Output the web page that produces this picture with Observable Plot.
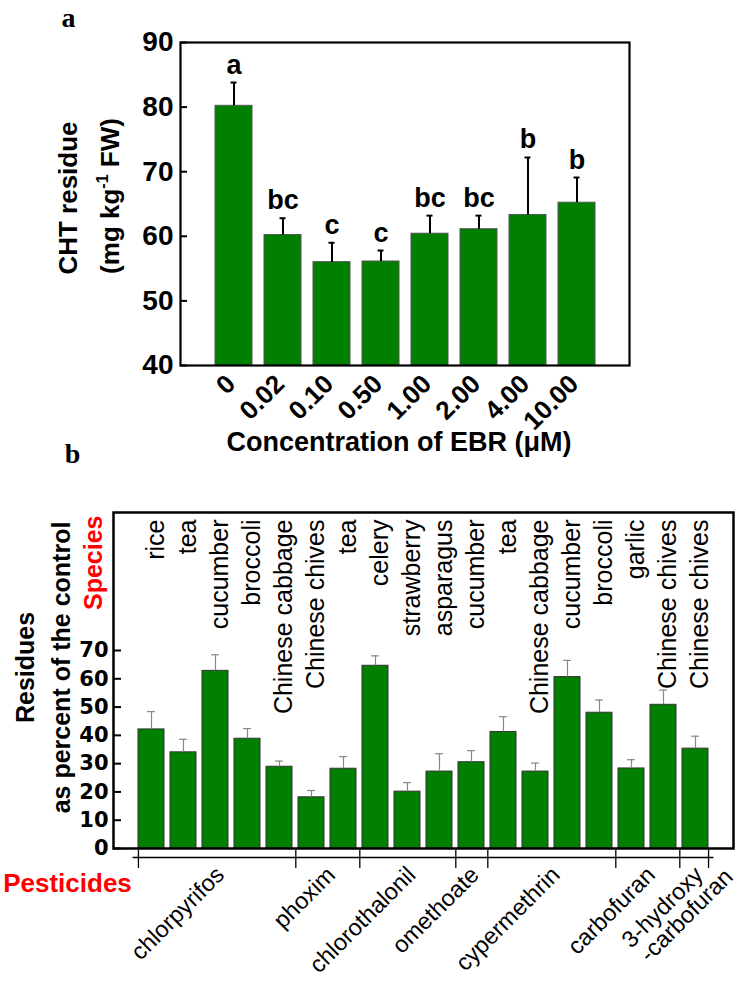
<!DOCTYPE html>
<html>
<head>
<meta charset="utf-8">
<script src="https://cdn.jsdelivr.net/npm/d3@7"></script>
<script src="https://cdn.jsdelivr.net/npm/@observablehq/plot@0.6"></script>
<style>
  body { margin: 0; background: #fff; }
  #root { position: relative; width: 744px; height: 992px; overflow: hidden; background: #fff; }
  #root svg { position: absolute; left: 0; }
</style>
</head>
<body>
<div id="root"></div>
<script>
// ---------- Panel a data ----------
const concentrations = ["0", "0.02", "0.10", "0.50", "1.00", "2.00", "4.00", "10.00"];
const chtResidue = [80.2, 60.2, 56.0, 56.1, 60.4, 61.1, 63.3, 65.2];
const chtError = [3.6, 2.6, 3.0, 1.7, 2.8, 2.1, 8.9, 3.9];
const significance = ["a", "bc", "c", "c", "bc", "bc", "b", "b"];
const yTicksA = [40, 50, 60, 70, 80, 90];

// ---------- Panel b data ----------
const species = ["rice", "tea", "cucumber", "broccoli", "Chinese cabbage", "Chinese chives", "tea",
  "celery", "strawberry", "asparagus", "cucumber", "tea", "Chinese cabbage", "cucumber",
  "broccoli", "garlic", "Chinese chives", "Chinese chives"];
const residuePercent = [42.1, 34.0, 62.8, 38.8, 28.9, 18.1, 28.2, 64.6, 20.1, 27.2, 30.5, 41.2,
  27.2, 60.6, 48.0, 28.3, 50.8, 35.3];
const residueError = [6.3, 4.6, 5.7, 3.6, 2.0, 2.4, 4.3, 3.5, 3.2, 6.3, 4.1, 5.4, 3.0, 5.9,
  4.5, 3.1, 5.2, 4.4];
const pesticides = ["chlorpyrifos", "phoxim", "chlorothalonil", "omethoate", "cypermethrin",
  "carbofuran", "3-hydroxy\n-carbofuran"];
const pesticideBarCounts = [5, 2, 3, 1, 4, 2, 1];
const yTicksB = [0, 10, 20, 30, 40, 50, 60, 70];

// ---------- styles ----------
const green = "#007f00";
const sans = "Liberation Sans, Arial, sans-serif";
const root = document.getElementById("root");
const C = {textAnchor: "middle", lineAnchor: "middle"};

// ---------- Panel a ----------
const dataA = concentrations.map((c, i) => ({c, v: chtResidue[i], e: chtError[i], s: significance[i]}));
const A = {w: 744, h: 470, ml: 180, mr: 115, mt: 42, mb: 105};
const frameWA = A.w - A.ml - A.mr;

const plotA = Plot.plot({
  width: A.w, height: A.h,
  marginLeft: A.ml, marginRight: A.mr, marginTop: A.mt, marginBottom: A.mb,
  style: {fontFamily: sans, background: "transparent", overflow: "visible"},
  x: {type: "band", domain: concentrations, paddingInner: 0.246, paddingOuter: 0.626, axis: null},
  y: {domain: [40, 90], axis: null},
  marks: [
    Plot.barY(dataA, {x: "c", y1: 40, y2: "v", fill: green, stroke: "#555", strokeWidth: 1}),
    Plot.ruleX(dataA, {x: "c", y1: "v", y2: d => d.v + d.e, stroke: "#000", strokeWidth: 2}),
    Plot.tickY(dataA, {x: "c", y: d => d.v + d.e, stroke: "#000", strokeWidth: 2, insetLeft: 15.5, insetRight: 15.5}),
    Plot.text(dataA, {x: "c", y: d => d.v + d.e, text: "s", dy: -9, textAnchor: "middle", lineAnchor: "bottom",
      fontSize: 27, fontWeight: "bold", fill: "#000"}),
    // inward ticks
    Plot.ruleY(yTicksA, {y: d => d, insetRight: frameWA - 7, stroke: "#000", strokeWidth: 2}),
    // y tick labels
    Plot.text(yTicksA, {y: d => d, text: d => String(d), frameAnchor: "left", textAnchor: "end",
      lineAnchor: "middle", dx: -7, fontSize: 28, fontWeight: "bold", fill: "#000"}),
    // x tick labels
    Plot.text(dataA, {x: "c", text: "c", frameAnchor: "bottom", rotate: -45, textAnchor: "end",
      lineAnchor: "top", dx: -10, dy: 7, fontSize: 26, fontWeight: "bold", fill: "#000"}),
    Plot.frame({stroke: "#000", strokeWidth: 2.2}),
    // axis titles
    Plot.text(["CHT residue"], {...C, frameAnchor: "left", rotate: -90, dx: -112, dy: -6,
      fontSize: 26, fontWeight: "bold", fill: "#000"}),
    Plot.text(["(mg kg-1 FW)"], {...C, frameAnchor: "left", rotate: -90, dx: -70, dy: -8,
      fontSize: 26, fontWeight: "bold", fill: "#000"}),
    Plot.text(["Concentration of EBR (\u03BCM)"], {...C, frameAnchor: "bottom", dx: -6, dy: 77,
      fontSize: 27, fontWeight: "bold", fill: "#000"}),
    // panel letters
    Plot.text(["a"], {...C, frameAnchor: "top-left", dx: -112, dy: -24, fontFamily: "Liberation Serif, serif",
      fontSize: 28, fontWeight: "bold", fill: "#000"}),
    Plot.text(["b"], {...C, frameAnchor: "top-left", dx: -108, dy: 412, fontFamily: "Liberation Serif, serif",
      fontSize: 28, fontWeight: "bold", fill: "#000"})
  ]
});
plotA.style.top = "0px";
// superscript in unit label
d3.select(plotA).selectAll("text").filter(function() { return this.textContent === "(mg kg-1 FW)"; })
  .each(function() {
    const t = d3.select(this);
    t.text(null);
    t.append("tspan").text("(mg kg");
    t.append("tspan").attr("dy", "-11").attr("font-size", "16").text("-1");
    t.append("tspan").attr("dy", "11").text(" FW)");
  });
root.appendChild(plotA);

// ---------- Panel b ----------
const idx = d3.range(species.length);
const dataB = idx.map(i => ({i, sp: species[i], v: residuePercent[i], e: residueError[i]}));
const B = {w: 744, h: 522, ml: 113, mr: 11, mt: 42, mb: 144};
const frameWB = B.w - B.ml - B.mr;
const frameHB = B.h - B.mt - B.mb;
const padIn = 0.2, padOut = 0.6;
const stepB = frameWB / (species.length - padIn + 2 * padOut);
const bwB = stepB * (1 - padIn);

// group boundaries
const groupStarts = [];
{ let s = 0; for (const n of pesticideBarCounts) { groupStarts.push(s); s += n; } }
const innerEnds = groupStarts.slice(1).map(s => s - 1);

const pestMarks = [];
pesticides.forEach((p, g) => {
  const f = groupStarts[g], n = pesticideBarCounts[g];
  p.split("\n").forEach((line, k) => {
    pestMarks.push(Plot.text([line], {x: () => f, frameAnchor: "bottom", rotate: -45,
      textAnchor: "end", lineAnchor: "top",
      dx: (n - 1) / 2 * stepB - 3 + k * 30, dy: 16 + k * 2,
      fontSize: 23.5, fill: "#000"}));
  });
});

const bracket = {insetTop: frameHB + 2, insetBottom: -20, stroke: "#000", strokeWidth: 1.3};

const plotB = Plot.plot({
  width: B.w, height: B.h,
  marginLeft: B.ml, marginRight: B.mr, marginTop: B.mt, marginBottom: B.mb,
  style: {fontFamily: sans, background: "transparent", overflow: "visible"},
  x: {type: "band", domain: idx, paddingInner: padIn, paddingOuter: padOut, axis: null},
  y: {domain: [0, 70], range: [B.h - B.mb, B.h - B.mb - 198], axis: null},
  marks: [
    Plot.barY(dataB, {x: "i", y: "v", fill: green, stroke: "#333", strokeWidth: 1}),
    Plot.ruleX(dataB, {x: "i", y1: "v", y2: d => d.v + d.e, stroke: "#888", strokeWidth: 1.2}),
    Plot.tickY(dataB, {x: "i", y: d => d.v + d.e, stroke: "#888", strokeWidth: 1.2,
      insetLeft: (bwB - 8) / 2, insetRight: (bwB - 8) / 2}),
    // species labels
    Plot.text(dataB, {x: "i", text: "sp", frameAnchor: "top", rotate: -90, textAnchor: "end",
      lineAnchor: "middle", dx: 4, dy: 7, fontSize: 25, fill: "#000"}),
    // y ticks & labels
    Plot.ruleY(yTicksB, {y: d => d, insetRight: frameWB - 8, stroke: "#000", strokeWidth: 2}),
    Plot.text(yTicksB, {y: d => d, text: d => String(d), frameAnchor: "left", textAnchor: "end",
      lineAnchor: "middle", dx: -5, fontSize: 21, fontWeight: "bold",
      fontFamily: "DejaVu Sans, sans-serif", fill: "#000"}),
    Plot.frame({stroke: "#000", strokeWidth: 2.5}),
    // pesticide bracket
    Plot.ruleY([0], {dy: 9, insetLeft: stepB * padOut, insetRight: stepB * padOut, stroke: "#000", strokeWidth: 1.3}),
    Plot.ruleX([0], {x: d => d, dx: -bwB / 2, ...bracket}),
    Plot.ruleX(innerEnds, {x: d => d, dx: stepB / 2, ...bracket}),
    Plot.ruleX([idx[idx.length - 1]], {x: d => d, dx: bwB / 2, ...bracket}),
    ...pestMarks,
    // axis titles
    Plot.text(["Residues"], {...C, frameAnchor: "left", rotate: -90, dx: -88, dy: -13,
      fontSize: 25, fontWeight: "bold", fill: "#000"}),
    Plot.text(["as percent of the control"], {...C, frameAnchor: "left", rotate: -90, dx: -52, dy: -13,
      fontSize: 25, fontWeight: "bold", fill: "#000"}),
    Plot.text(["Species"], {frameAnchor: "top-left", rotate: -90, textAnchor: "end", lineAnchor: "middle",
      dx: -20, dy: 3, fontSize: 25, fontWeight: "bold", fill: "#ff0000"}),
    Plot.text(["Pesticides"], {...C, frameAnchor: "bottom-left", dx: -46, dy: 35,
      fontSize: 26, fontWeight: "bold", fill: "#ff0000"})
  ]
});
plotB.style.top = "470px";
root.appendChild(plotB);
</script>
</body>
</html>
